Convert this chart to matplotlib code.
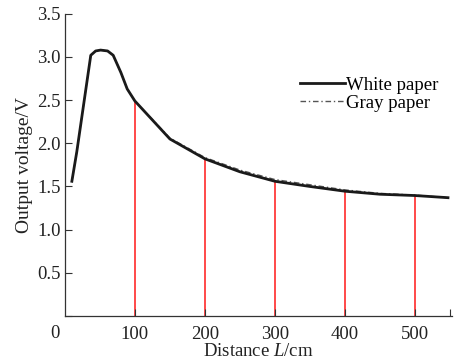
import matplotlib
matplotlib.use("Agg")
import matplotlib.pyplot as plt

# distance (cm) and output voltage (V)
distance = [10, 17, 37, 44, 51, 61, 69, 80, 89, 100, 150, 200, 250, 300, 350, 400, 450, 500, 547]
white_paper = [1.56, 1.90, 3.02, 3.07, 3.08, 3.07, 3.02, 2.82, 2.63, 2.49, 2.05, 1.82, 1.67, 1.56,
               1.50, 1.445, 1.41, 1.395, 1.37]
gray_paper = [1.56, 1.90, 3.02, 3.07, 3.08, 3.07, 3.02, 2.82, 2.63, 2.49, 2.06, 1.835, 1.69, 1.58,
              1.52, 1.46, 1.42, 1.40, 1.37]

marker_x = [100, 200, 300, 400, 500]
marker_y = [2.49, 1.82, 1.56, 1.445, 1.395]

xticks = [100, 200, 300, 400, 500, 550]
xticklabels = ["100", "200", "300", "400", "500", ""]
yticks = [0, 0.5, 1.0, 1.5, 2.0, 2.5, 3.0, 3.5]
yticklabels = ["", "0.5", "1.0", "1.5", "2.0", "2.5", "3.0", "3.5"]

FS = 13.5


def main():
    plt.rcParams['font.family'] = ['Liberation Serif', 'DejaVu Serif']
    plt.rcParams['mathtext.fontset'] = 'custom'
    plt.rcParams['mathtext.it'] = 'Liberation Serif:italic'
    plt.rcParams['mathtext.rm'] = 'Liberation Serif'

    fig = plt.figure(figsize=(4.6, 3.64), dpi=100)
    ax = fig.add_axes([0.141, 0.132, 0.842, 0.830])

    ax.vlines(marker_x, 0, marker_y, colors='#ff2a2a', linewidth=1.2, zorder=1)
    ax.plot(distance, gray_paper, color='#555555', linestyle=(0, (4, 2, 1, 2)), linewidth=1.0,
            label='Gray paper', zorder=2)
    ax.plot(distance, white_paper, color='#1a1a1a', linewidth=2.0, label='White paper', zorder=3)

    ax.set_xlim(0, 553)
    ax.set_ylim(0, 3.5)
    ax.set_xticks(xticks)
    ax.set_xticklabels(xticklabels)
    ax.set_yticks(yticks)
    ax.set_yticklabels(yticklabels)
    ax.tick_params(direction='in', length=5, width=0.8, labelsize=FS, colors='#333333',
                   labelcolor='#222222')
    ax.tick_params(axis='x', pad=7)
    ax.tick_params(axis='y', pad=3)
    for s in ['top', 'right']:
        ax.spines[s].set_visible(False)
    for s in ['left', 'bottom']:
        ax.spines[s].set_color('#333333')
        ax.spines[s].set_linewidth(0.9)

    # the origin label sits a bit left of the axis corner
    ax.annotate('0', xy=(0, 0), xytext=(-10, -9), textcoords='offset pixels',
                ha='center', va='top', fontsize=FS, color='#222222', annotation_clip=False)

    ax.set_xlabel('Distance $L$/cm', fontsize=FS, color='#222222', labelpad=0)
    ax.set_ylabel('Output voltage/V', fontsize=FS + 0.5, color='#222222', labelpad=3)

    handles, labels = ax.get_legend_handles_labels()
    ax.legend(handles[::-1], labels[::-1], loc='upper left', bbox_to_anchor=(0.572, 0.835),
              frameon=False, fontsize=FS, handlelength=2.4, handletextpad=0.1,
              labelspacing=0.05, borderpad=0.2)

    fig.savefig('out.png', dpi=100)


if __name__ == "__main__":
    main()
